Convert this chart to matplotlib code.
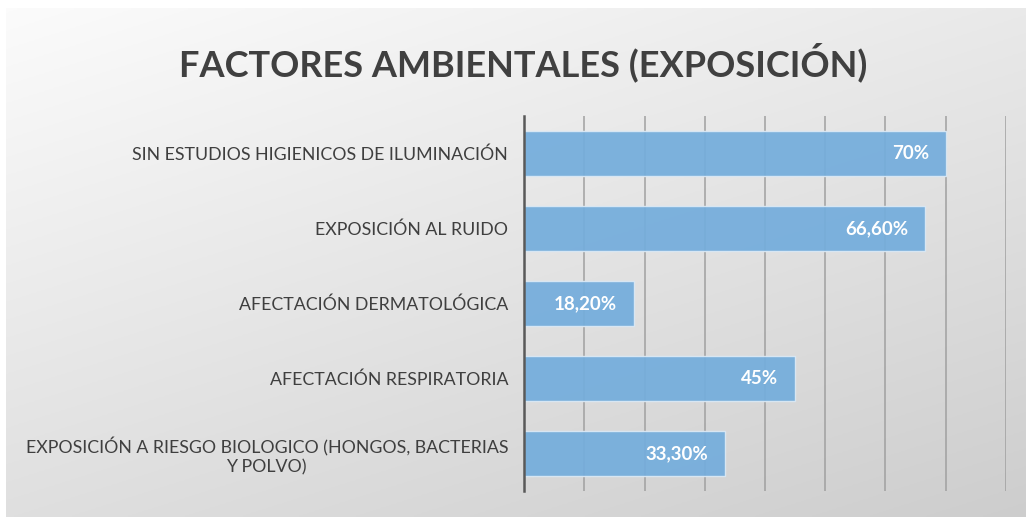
import numpy as np
import matplotlib
matplotlib.use("Agg")
import matplotlib.pyplot as plt

# data (top to bottom)
categories = [
    "SIN ESTUDIOS HIGIENICOS DE ILUMINACIÓN",
    "EXPOSICIÓN AL RUIDO",
    "AFECTACIÓN DERMATOLÓGICA",
    "AFECTACIÓN RESPIRATORIA",
    "EXPOSICIÓN A RIESGO BIOLOGICO (HONGOS, BACTERIAS\nY POLVO)",
]
values = [70, 66.6, 18.2, 45, 33.3]
value_labels = ["70%", "66,60%", "18,20%", "45%", "33,30%"]

plt.rcParams['font.family'] = ['Lato', 'DejaVu Sans']

W, H = 1026, 517
fig = plt.figure(figsize=(W / 100, H / 100), dpi=100)
fig.patch.set_facecolor("white")

# gradient background panel
bg = fig.add_axes([6 / W, 0, 1 - 6 / W, 1 - 8 / H])
yy, xx = np.mgrid[0:1:200j, 0:1:400j]
shade = 0.985 - 0.11 * yy - 0.07 * xx
bg.imshow(np.dstack([shade] * 3), aspect="auto", extent=[0, 1, 0, 1], origin="upper")
bg.set_axis_off()

# main axes
ax = fig.add_axes([524 / W, (H - 491) / H, (1006 - 524) / W, 375 / H])
ax.set_facecolor("none")

y = np.arange(len(categories))
bars = ax.barh(y, values, height=0.6, color="#74addc", alpha=0.93,
               edgecolor="#dbe9f5", linewidth=1, zorder=3)

ax.set_xlim(0, 80)
ax.set_ylim(len(categories) - 0.5, -0.5)
ax.set_xticks(np.arange(0, 81, 10))
ax.xaxis.grid(True, color="#a0a0a0", linewidth=1.1, zorder=0)
ax.tick_params(axis="x", length=0, labelbottom=False)

ax.set_yticks(y)
ax.set_yticklabels(categories, fontsize=12.8, color="#3f3f3f")
ax.tick_params(axis="y", length=0, pad=11.5)
for lbl in ax.get_yticklabels():
    lbl.set_multialignment("center")

for s in ["top", "right", "bottom"]:
    ax.spines[s].set_visible(False)
ax.spines["left"].set_color("#595959")
ax.spines["left"].set_linewidth(1.8)
ax.spines["left"].set_zorder(4)

for bar, txt in zip(bars, value_labels):
    ax.text(bar.get_width() - 2.8, bar.get_y() + bar.get_height() / 2, txt,
            ha="right", va="center", color="white", fontsize=13.5,
            fontweight="bold", zorder=5)

fig.text(523 / W, 1 - 62 / H, "FACTORES AMBIENTALES (EXPOSICIÓN)",
         ha="center", va="center", fontsize=26, fontweight="bold", color="#404040")

fig.savefig("out.png", dpi=100)
